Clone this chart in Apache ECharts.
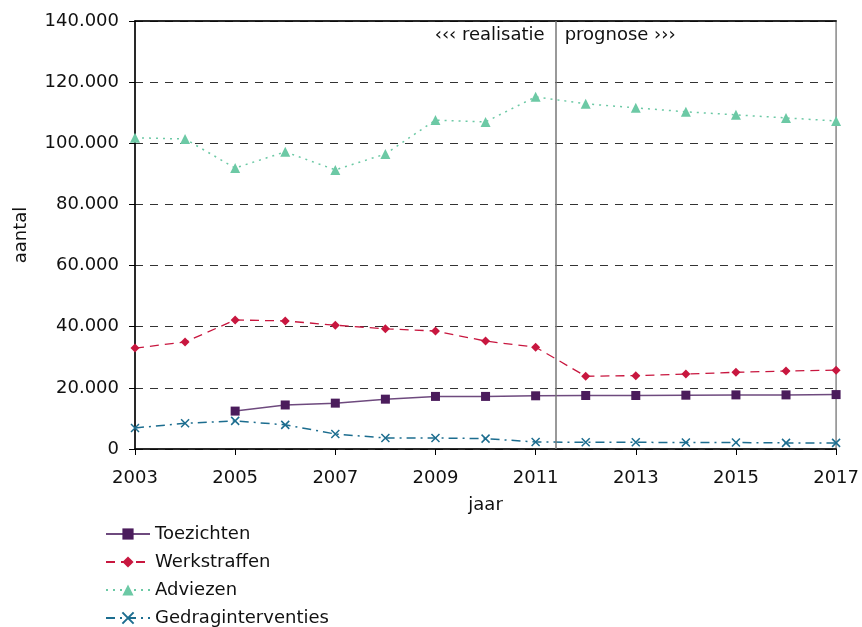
<!DOCTYPE html>
<html>
<head>
<meta charset="utf-8">
<script src="https://cdn.jsdelivr.net/npm/echarts@6/dist/echarts.min.js"></script>
<style>
  html, body { margin: 0; padding: 0; background: #fff; }
  #main { width: 862px; height: 627px; }
</style>
</head>
<body>
<div id="main"></div>
<script>
// jaren 2003 - 2017, waarden in aantallen
const years = [2003, 2004, 2005, 2006, 2007, 2008, 2009, 2010, 2011, 2012, 2013, 2014, 2015, 2016, 2017];
const toezichten = [null, null, 12400, 14400, 15000, 16300, 17200, 17200, 17400, 17500, 17500, 17600, 17700, 17700, 17800];
const werkstraffen = [33000, 35000, 42200, 41900, 40500, 39300, 38600, 35300, 33300, 23800, 24000, 24500, 25100, 25500, 25800];
const adviezen = [101800, 101400, 91900, 97200, 91300, 96500, 107600, 107000, 115200, 112900, 111600, 110300, 109300, 108300, 107300];
const gedraginterventies = [6900, 8400, 9200, 7900, 4900, 3600, 3600, 3400, 2300, 2200, 2200, 2100, 2100, 2000, 2000];
const splitYear = 2011.4;

const pairs = vals => years.map((y, i) => [y, vals[i]]).filter(p => p[1] !== null);
const font = 'DejaVu Sans, Verdana, sans-serif';
const fs = 18;
const crossPath = 'path://M0,0L10,10M10,0L0,10';

const myChart = echarts.init(document.getElementById('main'));
myChart.setOption({
  animation: false,
  textStyle: { fontFamily: font },
  grid: { left: 135, right: 24, top: 21, bottom: 178, show: true, borderColor: '#888', borderWidth: 1.5 },
  legend: {
    orient: 'vertical', left: 100, top: 520, height: 140, itemWidth: 44, itemHeight: 14, itemGap: 10,
    textStyle: { fontSize: fs, color: '#111', fontFamily: font },
    data: ['Toezichten', 'Werkstraffen', 'Adviezen', 'Gedraginterventies']
  },
  xAxis: [{
    type: 'value', min: 2003, max: 2017, interval: 2,
    name: 'jaar', nameLocation: 'middle', nameGap: 47,
    nameTextStyle: { fontSize: fs, color: '#111' },
    axisLine: { lineStyle: { color: '#000', width: 1.5 } },
    axisTick: { length: 6, lineStyle: { color: '#000' } },
    axisLabel: { fontSize: fs, color: '#111', margin: 20, formatter: v => String(v) },
    splitLine: { show: false }
  }, {
    type: 'value', position: 'top', min: 2003, max: 2017,
    axisLine: { show: true, onZero: false, lineStyle: { color: '#000', width: 1.5 } },
    axisTick: { show: false }, axisLabel: { show: false }, splitLine: { show: false }
  }],
  yAxis: {
    type: 'value', min: 0, max: 140000, interval: 20000,
    name: 'aantal', nameLocation: 'middle', nameGap: 105,
    nameTextStyle: { fontSize: fs, color: '#111' },
    axisLine: { show: true, lineStyle: { color: '#000', width: 1.5 } },
    axisTick: { show: true, length: 6, lineStyle: { color: '#000' } },
    axisLabel: { fontSize: fs, color: '#111', margin: 16, formatter: v => v === 0 ? '0' : (v / 1000) + '.000' },
    splitLine: { lineStyle: { color: '#333', type: [8, 7], width: 1 } }
  },
  series: [{
    name: 'Toezichten', type: 'line', data: pairs(toezichten),
    symbol: 'rect', symbolSize: 9,
    lineStyle: { color: '#6e4a7e', width: 1.5 },
    itemStyle: { color: '#4b1c5c' }
  }, {
    name: 'Werkstraffen', type: 'line', data: pairs(werkstraffen),
    symbol: 'diamond', symbolSize: 9,
    lineStyle: { color: '#c8173f', width: 1.3, type: [9, 6] },
    itemStyle: { color: '#c8173f' }
  }, {
    name: 'Adviezen', type: 'line', data: pairs(adviezen),
    symbol: 'triangle', symbolSize: 10,
    lineStyle: { color: '#6cc9a5', width: 1.5, type: [2, 5] },
    itemStyle: { color: '#6cc9a5' }
  }, {
    name: 'Gedraginterventies', type: 'line', data: pairs(gedraginterventies),
    symbol: crossPath, symbolSize: 8,
    lineStyle: { color: '#1c6d8f', width: 1.5, type: [9, 5, 2, 5] },
    itemStyle: { color: 'rgba(0,0,0,0)', borderColor: '#1c6d8f', borderWidth: 1.5 },
    markLine: {
      silent: true, symbol: 'none', animation: false,
      lineStyle: { color: '#777', type: 'solid', width: 1.5 },
      label: { show: false },
      data: [{ xAxis: splitYear }]
    }
  }]
});

// teksten boven de scheidingslijn
const px = myChart.convertToPixel({ xAxisIndex: 0 }, splitYear);
myChart.setOption({
  graphic: [{
    type: 'text', right: 862 - (px - 11), top: 26,
    style: { text: '‹‹‹ realisatie', font: fs + 'px ' + font, fill: '#111' }
  }, {
    type: 'text', left: px + 9, top: 26,
    style: { text: 'prognose ›››', font: fs + 'px ' + font, fill: '#111' }
  }]
});
</script>
</body>
</html>
